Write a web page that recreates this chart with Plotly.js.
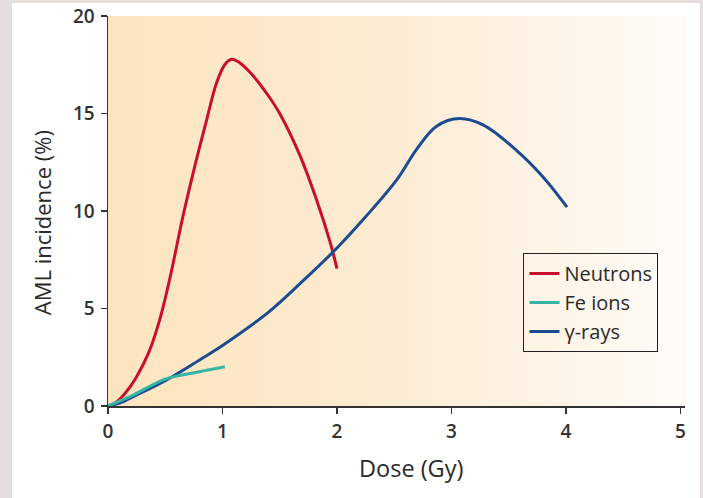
<!DOCTYPE html>
<html>
<head>
<meta charset="utf-8">
<script src="https://cdn.plot.ly/plotly-3.0.1.min.js"></script>
<style>
  html, body { margin: 0; padding: 0; width: 703px; height: 498px; background: #e7dfdd; overflow: hidden; }
  #chart { position: absolute; left: 12px; top: 3px; width: 688px; height: 495px; }
</style>
</head>
<body>
<div id="chart"></div>
<script>
// ---- Data ----
const seriesNames = ["Neutrons", "Fe ions", "γ-rays"];

const neutronDose = [0, 0.07, 0.15, 0.25, 0.36, 0.46, 0.55, 0.65, 0.75, 0.85, 0.95, 1.02, 1.08, 1.15, 1.25, 1.39, 1.50, 1.68, 1.82, 1.94, 2.0];
const neutronAML  = [0, 0.18, 0.65, 1.5, 2.8, 4.6, 6.8, 9.6, 12.1, 14.4, 16.6, 17.5, 17.78, 17.6, 17.05, 16.0, 15.0, 12.8, 10.6, 8.4, 7.05];

const feDose = [0, 0.1, 0.22, 0.5, 0.8, 1.02];
const feAML  = [0, 0.25, 0.56, 1.38, 1.76, 2.01];

const gammaDose = [0, 0.1, 0.22, 0.5, 0.8, 1.0, 1.4, 1.7, 2.0, 2.25, 2.52, 2.7, 2.87, 3.07, 3.28, 3.57, 3.80, 4.01];
const gammaAML  = [0, 0.15, 0.48, 1.3, 2.36, 3.1, 4.8, 6.4, 8.1, 9.7, 11.58, 13.2, 14.35, 14.74, 14.4, 13.1, 11.75, 10.2];

const xTicks = [0, 1, 2, 3, 4, 5];
const yTicks = [0, 5, 10, 15, 20];
const xMax = 5.04, yMax = 20;

const colors = ["#c8102e", "#35b5a2", "#1d4b91"];
const font = "'Open Sans', 'DejaVu Sans', sans-serif";

// background gradient panel of the plot area
const bg = {
  x: [0, xMax, xMax, 0], y: [0, 0, yMax, yMax],
  type: "scatter", mode: "lines", fill: "toself",
  line: { width: 0 },
  fillgradient: { type: "horizontal", colorscale: [[0, "#fce4be"], [0.5, "#fdecd4"], [1, "#fffcf8"]] },
  showlegend: false, hoverinfo: "skip"
};

function series(x, y, i) {
  return {
    x: x, y: y, name: seriesNames[i], type: "scatter", mode: "lines",
    line: { color: colors[i], width: 3, shape: "spline", smoothing: 1 },
    legendgroup: "g" + i
  };
}

const data = [bg,
  series(neutronDose, neutronAML, 0),
  series(gammaDose, gammaAML, 2),
  series(feDose, feAML, 1)
];
data[1].legendrank = 1; data[3].legendrank = 2; data[2].legendrank = 3;

const axisCommon = {
  showgrid: false, zeroline: false, showline: true, linecolor: "#333", linewidth: 1.5,
  ticks: "outside", ticklen: 6, tickwidth: 1.5, tickcolor: "#333",
  tickfont: { family: font, size: 19, color: "#333", weight: 600 },
  ticklabeloverflow: "allow",
  fixedrange: true
};

const layout = {
  width: 688, height: 495,
  margin: { l: 96, r: 15.4, t: 12.7, b: 92 },
  paper_bgcolor: "#ffffff", plot_bgcolor: "rgba(0,0,0,0)",
  showlegend: true,
  xaxis: Object.assign({}, axisCommon, { range: [0, xMax], tickvals: xTicks, ticktext: xTicks.map(String), ticklabelstandoff: 2 }),
  yaxis: Object.assign({}, axisCommon, { range: [0, yMax], tickvals: yTicks, ticktext: yTicks.map(String), ticklabelstandoff: 2 }),
  legend: {
    x: 0.72, y: 0.392, xanchor: "left", yanchor: "top",
    bgcolor: "rgba(0,0,0,0)", bordercolor: "#222", borderwidth: 1,
    font: { family: font, size: 20, color: "#2a2a2a" },
    tracegroupgap: 0, traceorder: "grouped"
  },
  annotations: [
    { text: "Dose (Gy)", xref: "paper", yref: "paper", x: 0.5255, y: -0.159, xanchor: "center", yanchor: "middle",
      showarrow: false, font: { family: font, size: 23.5, color: "#2a2a2a" } },
    { text: "AML incidence (%)", xref: "paper", yref: "paper", x: -0.1145, y: 0.471, xanchor: "center", yanchor: "middle",
      textangle: -90, showarrow: false, font: { family: font, size: 22, color: "#2a2a2a" } }
  ]
};

Plotly.newPlot("chart", data, layout, { displayModeBar: false, staticPlot: true });
</script>
</body>
</html>
